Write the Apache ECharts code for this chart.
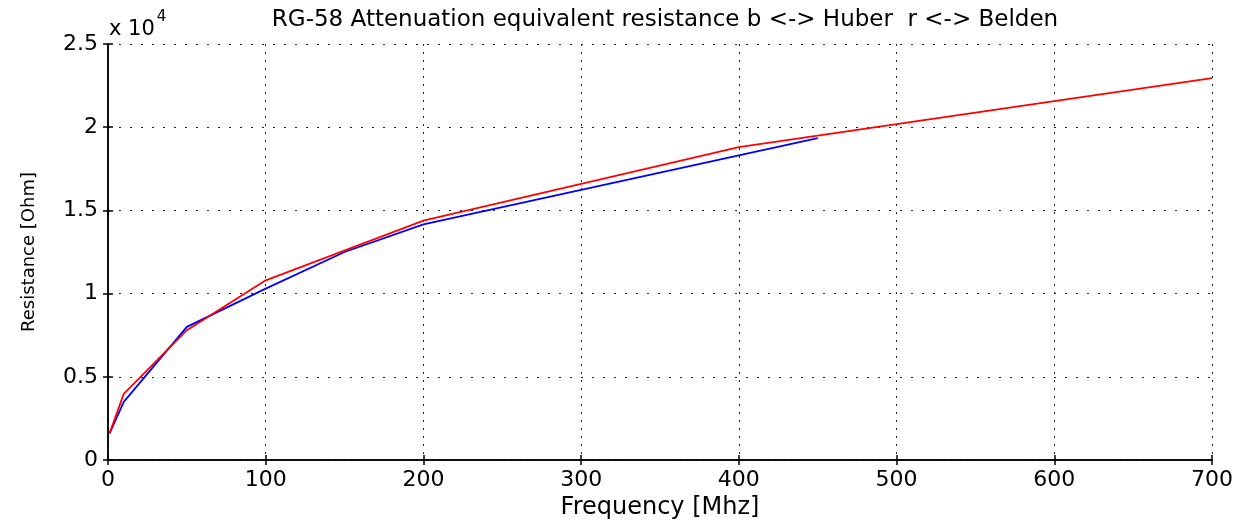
<!DOCTYPE html>
<html>
<head>
<meta charset="utf-8">
<script src="https://cdn.jsdelivr.net/npm/echarts@6/dist/echarts.min.js"></script>
<style>
html,body{margin:0;padding:0;background:#fff;}
#chart{width:1243px;height:525px;}
</style>
</head>
<body>
<div id="chart"></div>
<script>
// Huber (blue): [frequency MHz, resistance Ohm]
const huberFreq = [1, 10, 50, 100, 150, 200, 450];
const huberRes  = [1600, 3490, 8000, 10300, 12500, 14160, 19340];
// Belden (red)
const beldenFreq = [1, 10, 50, 100, 200, 400, 700];
const beldenRes  = [1600, 3980, 7800, 10800, 14380, 18800, 22950];

const xTicks = [0, 100, 200, 300, 400, 500, 600, 700];
const yTicks = [0, 0.5, 1, 1.5, 2, 2.5];

const titleText = 'RG-58 Attenuation equivalent resistance b <-> Huber  r <-> Belden';
const FONT = 'DejaVu Sans';

const chart = echarts.init(document.getElementById('chart'), null, {renderer: 'canvas'});
const pair = (xs, ys) => xs.map((x, i) => [x, ys[i]]);

const axisCommon = {
  axisLine: {show: true, lineStyle: {color: '#000', width: 1.5}},
  axisTick: {show: true, inside: true, length: 5, lineStyle: {color: '#000', width: 1.5}},
};

chart.setOption({
  backgroundColor: '#fff',
  animation: false,
  title: {
    text: titleText, left: 660, top: 4, textAlign: 'center',
    textStyle: {fontFamily: FONT, fontSize: 23, fontWeight: 'normal', color: '#000'}
  },
  grid: {left: 108, right: 31, top: 44, bottom: 64, show: false},
  xAxis: [{
    type: 'value', min: xTicks[0], max: xTicks[xTicks.length - 1], interval: 100,
    position: 'bottom',
    name: 'Frequency [Mhz]', nameLocation: 'middle', nameGap: 36,
    nameTextStyle: {fontFamily: FONT, fontSize: 24, color: '#000'},
    ...axisCommon,
    axisLabel: {fontFamily: FONT, fontSize: 22, color: '#000', margin: 9},
    splitLine: {show: true, lineStyle: {color: '#222', type: [2, 6], width: 1}}
  }, {
    type: 'value', min: xTicks[0], max: xTicks[xTicks.length - 1], interval: 100,
    position: 'top', ...axisCommon, axisLabel: {show: false}, splitLine: {show: false}
  }],
  yAxis: [{
    type: 'value', min: 0, max: 25000, interval: 5000, position: 'left',
    name: 'Resistance [Ohm]', nameLocation: 'middle', nameGap: 70, nameRotate: 90,
    nameTextStyle: {fontFamily: FONT, fontSize: 18, color: '#000'},
    ...axisCommon,
    axisLabel: {fontFamily: FONT, fontSize: 22, color: '#000', margin: 10,
      formatter: v => String(yTicks[Math.round(v / 5000)])},
    splitLine: {show: true, lineStyle: {color: '#222', type: [2, 9], width: 1}}
  }, {
    type: 'value', min: 0, max: 25000, interval: 5000, position: 'right',
    ...axisCommon, axisLabel: {show: false}, splitLine: {show: false}
  }],
  graphic: [{
    type: 'text', left: 109, top: 10,
    style: {
      text: '{a|x 10}{s|4}', fontFamily: FONT,
      rich: {
        a: {fontFamily: FONT, fontSize: 21, fill: '#000', verticalAlign: 'bottom', lineHeight: 30},
        s: {fontFamily: FONT, fontSize: 15, fill: '#000', verticalAlign: 'top', lineHeight: 30, padding: [0, 0, 12, 2]}
      }
    }
  }],
  series: [{
    name: 'Huber', type: 'line', data: pair(huberFreq, huberRes),
    showSymbol: false, lineStyle: {color: '#0000ff', width: 1.8}, itemStyle: {color: '#0000ff'}
  }, {
    name: 'Belden', type: 'line', data: pair(beldenFreq, beldenRes),
    showSymbol: false, lineStyle: {color: '#ff0000', width: 1.8}, itemStyle: {color: '#ff0000'}
  }]
});
</script>
</body>
</html>
